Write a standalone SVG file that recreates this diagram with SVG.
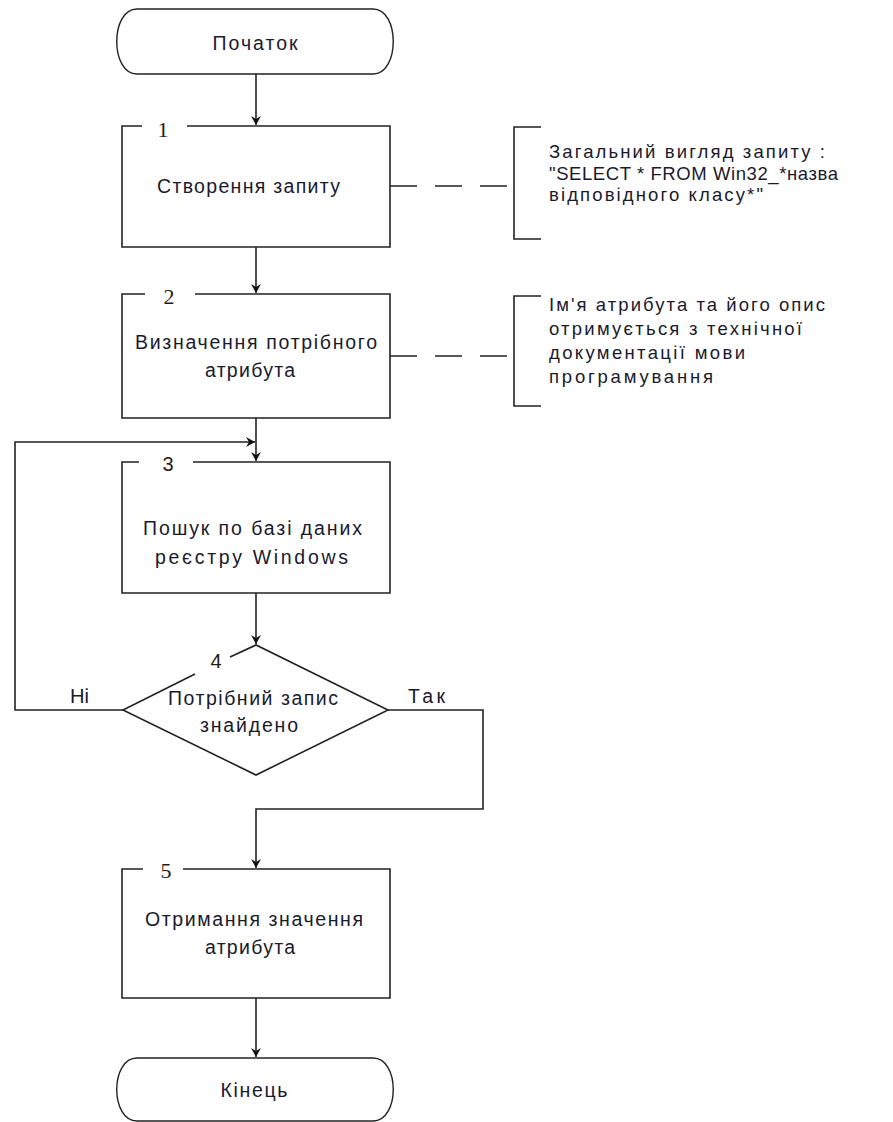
<svg xmlns="http://www.w3.org/2000/svg" width="893" height="1122" viewBox="0 0 893 1122">
<style>
.s{fill:none;stroke:#222;stroke-width:1.6}
.n{fill:#fff;stroke:#222;stroke-width:1.4}
.t{font-family:"Liberation Sans",Arial,sans-serif;font-size:19.5px;fill:#1a1a2e}
.a{font-family:"Liberation Sans",Arial,sans-serif;font-size:18.5px;fill:#1a1a2e}
.m{text-anchor:middle}
.d{font-family:"Liberation Serif","Times New Roman",serif;font-size:22px;fill:#2a1a10;text-anchor:middle}
.ds{font-family:"Liberation Sans",Arial,sans-serif;font-size:20px;fill:#2a1a10;text-anchor:middle}
.dash{fill:none;stroke:#222;stroke-width:1.6;stroke-dasharray:27 18}
</style>
<defs>
<marker id="ar" markerWidth="12" markerHeight="12" viewBox="-10 -6 12 12" refX="0" refY="0" orient="auto" markerUnits="userSpaceOnUse">
<path d="M0,0 L-9,-5 L-6,0 L-9,5 Z" fill="#111"/>
</marker>
</defs>
<rect width="893" height="1122" fill="#fff"/>

<g id="connectors">
<path class="s" d="M256,74 V125" marker-end="url(#ar)"/>
<path class="s" d="M256,247 V293" marker-end="url(#ar)"/>
<path class="s" d="M256,418 V461" marker-end="url(#ar)"/>
<path class="s" d="M123,710 H15 V442 H255" marker-end="url(#ar)"/>
<path class="s" d="M256,593 V644" marker-end="url(#ar)"/>
<path class="s" d="M388,710 H483 V809 H256 V868" marker-end="url(#ar)"/>
<path class="s" d="M256,998 V1057" marker-end="url(#ar)"/>
<path class="dash" d="M390,186 H514"/>
<path class="dash" d="M390,356 H514"/>
<text class="t" x="70" y="703" textLength="19" lengthAdjust="spacingAndGlyphs">Ні</text>
<text class="t" x="408" y="703" textLength="37" lengthAdjust="spacing">Так</text>
</g>

<g id="start">
<path class="n" d="M137,9 H373 C400,9 400,74 373,74 H137 C110,74 110,9 137,9 Z"/>
<text class="t m" x="255" y="50" textLength="85" lengthAdjust="spacing">Початок</text>
</g>

<g id="box1">
<path class="s" d="M142,126 H122 V247 H390 V126 H187"/>
<text class="d" x="163" y="137">1</text>
<text class="t" x="157" y="193" textLength="183" lengthAdjust="spacing">Створення запиту</text>
</g>

<g id="box2">
<path class="s" d="M145,294 H122 V418 H390 V294 H195"/>
<text class="d" x="169" y="304">2</text>
<text class="t" x="135" y="349" textLength="242" lengthAdjust="spacing">Визначення потрібного</text>
<text class="t" x="205" y="377" textLength="90" lengthAdjust="spacing">атрибута</text>
</g>

<g id="box3">
<path class="s" d="M139,462 H122 V593 H390 V462 H193"/>
<text class="ds" x="168" y="471">3</text>
<text class="t" x="143" y="535" textLength="219" lengthAdjust="spacing">Пошук по базі даних</text>
<text class="t" x="155" y="564" textLength="193" lengthAdjust="spacing">реєстру Windows</text>
</g>

<g id="decision4">
<path class="s" d="M230,657 L256,645 L388,710 L256,775 L123,710 L195,674" stroke-width="1.3"/>
<text class="ds" x="216" y="668">4</text>
<text class="t" x="168" y="705" textLength="170" lengthAdjust="spacing">Потрібний запис</text>
<text class="t" x="200" y="732" textLength="98" lengthAdjust="spacing">знайдено</text>
</g>

<g id="box5">
<path class="s" d="M143,869 H122 V998 H390 V869 H183"/>
<text class="d" x="166" y="878">5</text>
<text class="t" x="145" y="926" textLength="218" lengthAdjust="spacing">Отримання значення</text>
<text class="t" x="205" y="954" textLength="90" lengthAdjust="spacing">атрибута</text>
</g>

<g id="end">
<path class="n" d="M137,1058 H373 C400,1058 400,1121 373,1121 H137 C110,1121 110,1058 137,1058 Z"/>
<text class="t m" x="254" y="1097" textLength="67" lengthAdjust="spacing">Кінець</text>
</g>

<g id="note1">
<path class="s" d="M541,127 H514 V239 H541"/>
<text class="a" x="549" y="158" textLength="276" lengthAdjust="spacing">Загальний вигляд запиту :</text>
<text class="a" x="549" y="180" textLength="289" lengthAdjust="spacing">"SELECT * FROM Win32_*назва</text>
<text class="a" x="549" y="201" textLength="214" lengthAdjust="spacing">відповідного класу*"</text>
</g>

<g id="note2">
<path class="s" d="M541,296 H514 V406 H541"/>
<text class="a" x="549" y="311" textLength="276" lengthAdjust="spacing">Ім'я атрибута та його опис</text>
<text class="a" x="549" y="335" textLength="253" lengthAdjust="spacing">отримується з технічної</text>
<text class="a" x="549" y="359" textLength="196" lengthAdjust="spacing">документації мови</text>
<text class="a" x="549" y="383" textLength="164" lengthAdjust="spacing">програмування</text>
</g>
</svg>
